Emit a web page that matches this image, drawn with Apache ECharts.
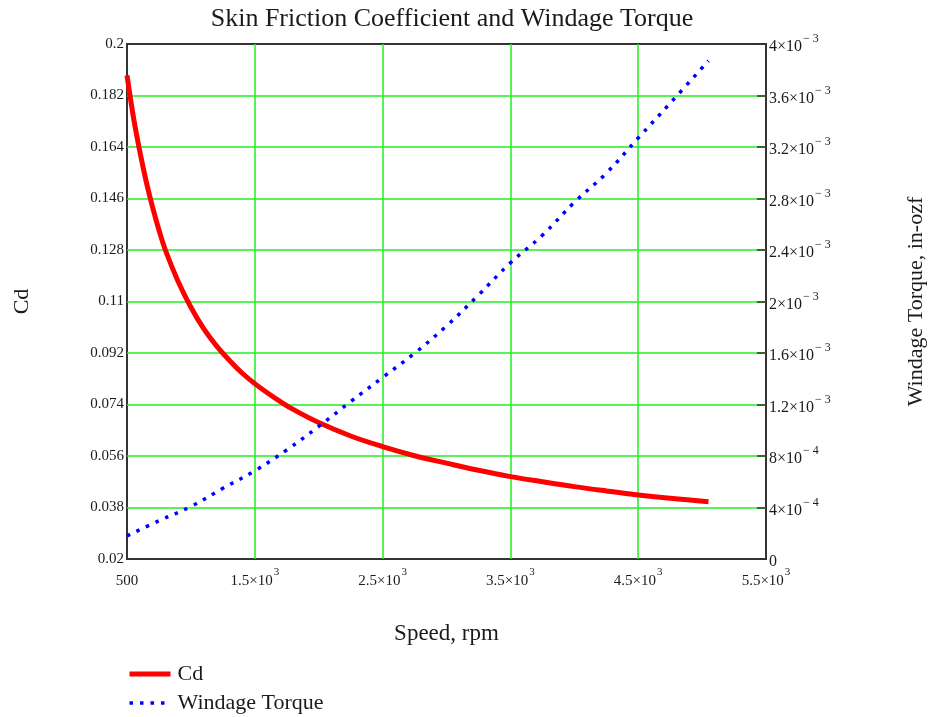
<!DOCTYPE html>
<html>
<head>
<meta charset="utf-8">
<script src="https://cdn.jsdelivr.net/npm/echarts@6/dist/echarts.min.js"></script>
<style>
html,body{margin:0;padding:0;background:#fff;}
#chart{width:931px;height:717px;}
</style>
</head>
<body>
<div id="chart"></div>
<script>
// Speed (rpm) sample points for Cd
var cdSpeed = [500, 525, 550, 600, 650, 700, 750, 800, 900, 1000, 1100, 1200, 1300, 1400, 1500, 1600, 1700, 1800, 2000, 2250, 2500, 2750, 3000, 3250, 3500, 3750, 4000, 4250, 4500, 4750, 5050];
var cdValues = [0.189, 0.1815, 0.1745, 0.1625, 0.152, 0.143, 0.135, 0.128, 0.117, 0.108, 0.1005, 0.0945, 0.0895, 0.085, 0.0813, 0.0780, 0.0750, 0.0723, 0.0677, 0.0630, 0.0593, 0.0561, 0.0535, 0.0510, 0.0488, 0.0470, 0.0453, 0.0438, 0.0424, 0.0412, 0.0400];

// Speed (rpm) sample points for windage torque
var tqSpeed = [500, 750, 1000, 1250, 1500, 1750, 2000, 2250, 2500, 2750, 3000, 3250, 3500, 3750, 4000, 4250, 4500, 4750, 5050];
var tqValues = [1.79e-4, 2.97e-4, 4.08e-4, 5.49e-4, 6.85e-4, 8.47e-4, 1.03e-3, 1.222e-3, 1.41e-3, 1.598e-3, 1.81e-3, 2.05e-3, 2.30e-3, 2.514e-3, 2.77e-3, 2.996e-3, 3.27e-3, 3.54e-3, 3.87e-3];

var titleText = 'Skin Friction Coefficient and Windage Torque';
var xName = 'Speed, rpm';
var yLeftName = 'Cd';
var yRightName = 'Windage Torque, in-ozf';
var seriesNames = ['Cd', 'Windage Torque'];

function zip(a, b) { return a.map(function (v, i) { return [v, b[i]]; }); }

var FONT = 'Liberation Serif';
var TXT = '#1a1a1a';
var GRID = '#22ee22';

var rich = {
  a: { fontFamily: FONT, fontSize: 15, color: TXT, lineHeight: 22, verticalAlign: 'bottom' },
  s: { fontFamily: FONT, fontSize: 11, color: TXT, lineHeight: 22, verticalAlign: 'top', padding: [0, 0, 0, 1] }
};
var richR = {
  a: { fontFamily: FONT, fontSize: 16, color: TXT, lineHeight: 22, verticalAlign: 'bottom' },
  s: { fontFamily: FONT, fontSize: 12, color: TXT, lineHeight: 22, verticalAlign: 'top', padding: [0, 0, 0, 1] }
};

function sci(v) {
  if (v === 0) return '{a|0}';
  var e = Math.floor(Math.log10(Math.abs(v)) + 1e-9);
  var m = parseFloat((v / Math.pow(10, e)).toFixed(3));
  var es = e < 0 ? '\u2212 ' + (-e) : String(e);
  return '{a|' + m + '\u00d710}{s|' + es + '}';
}

var chart = echarts.init(document.getElementById('chart'), null, { renderer: 'canvas' });
chart.setOption({
  backgroundColor: '#ffffff',
  animation: false,
  title: {
    text: titleText,
    left: 447, top: 1, textAlign: 'center',
    textStyle: { fontFamily: FONT, fontSize: 26, fontWeight: 'normal', color: TXT }
  },
  grid: {
    left: 127, right: 165, top: 44, bottom: 158,
    outerBoundsMode: 'none', containLabel: false,
    show: true, borderColor: '#333', borderWidth: 2, backgroundColor: '#fff'
  },
  legend: {
    orient: 'vertical', left: 127, top: 663, itemGap: 7, padding: 0,
    itemWidth: 41, itemHeight: 14,
    itemStyle: { opacity: 0 },
    textStyle: { fontFamily: FONT, fontSize: 22, lineHeight: 22, color: TXT, padding: [0, 0, 0, 2] },
    data: [
      { name: seriesNames[0], lineStyle: { width: 5 } },
      { name: seriesNames[1], lineStyle: { width: 3.5 } }
    ]
  },
  xAxis: {
    type: 'value', min: 500, max: 5500, interval: 1000,
    name: xName, nameLocation: 'middle', nameGap: 63,
    nameTextStyle: { fontFamily: FONT, fontSize: 23, color: TXT },
    axisLine: { show: false },
    axisTick: { show: false },
    splitLine: { show: true, showMinLine: false, showMaxLine: false, lineStyle: { color: GRID, width: 1.5 } },
    axisLabel: {
      margin: 8,
      formatter: function (v) { return v < 1000 ? '{a|' + v + '}' : sci(v); },
      rich: rich
    }
  },
  yAxis: [{
    type: 'value', min: 0.02, max: 0.2, interval: 0.018, position: 'left',
    name: yLeftName, nameLocation: 'middle', nameGap: 94, nameRotate: 90,
    nameTextStyle: { fontFamily: FONT, fontSize: 22, color: TXT },
    axisLine: { show: false },
    axisTick: { show: false },
    splitLine: { show: true, showMinLine: false, showMaxLine: false, lineStyle: { color: GRID, width: 1.5 } },
    axisLabel: {
      margin: 3,
      fontFamily: FONT, fontSize: 15, color: TXT,
      formatter: function (v) { return String(parseFloat(v.toFixed(3))); }
    }
  }, {
    type: 'value', min: 0, max: 0.004, interval: 0.0004, position: 'right',
    name: yRightName, nameLocation: 'middle', nameGap: 139, nameRotate: 90,
    nameTextStyle: { fontFamily: FONT, fontSize: 22, color: TXT },
    axisLine: { show: false },
    axisTick: { show: true, inside: true, length: 9, lineStyle: { color: '#333', width: 1.5 } },
    splitLine: { show: false },
    axisLabel: {
      margin: 3,
      formatter: function (v) { return sci(v); },
      rich: richR
    }
  }],
  series: [{
    name: seriesNames[0], type: 'line', yAxisIndex: 0,
    data: zip(cdSpeed, cdValues), smooth: 0.4, symbol: 'none',
    lineStyle: { color: '#ff0000', width: 5 }, itemStyle: { color: '#ff0000' }, z: 3
  }, {
    name: seriesNames[1], type: 'line', yAxisIndex: 1,
    data: zip(tqSpeed, tqValues), smooth: 0.4, symbol: 'none',
    lineStyle: { color: '#0000ff', width: 3.5, type: [3.5, 7], cap: 'butt' }, itemStyle: { color: '#0000ff' }, z: 4
  }]
});
</script>
</body>
</html>
